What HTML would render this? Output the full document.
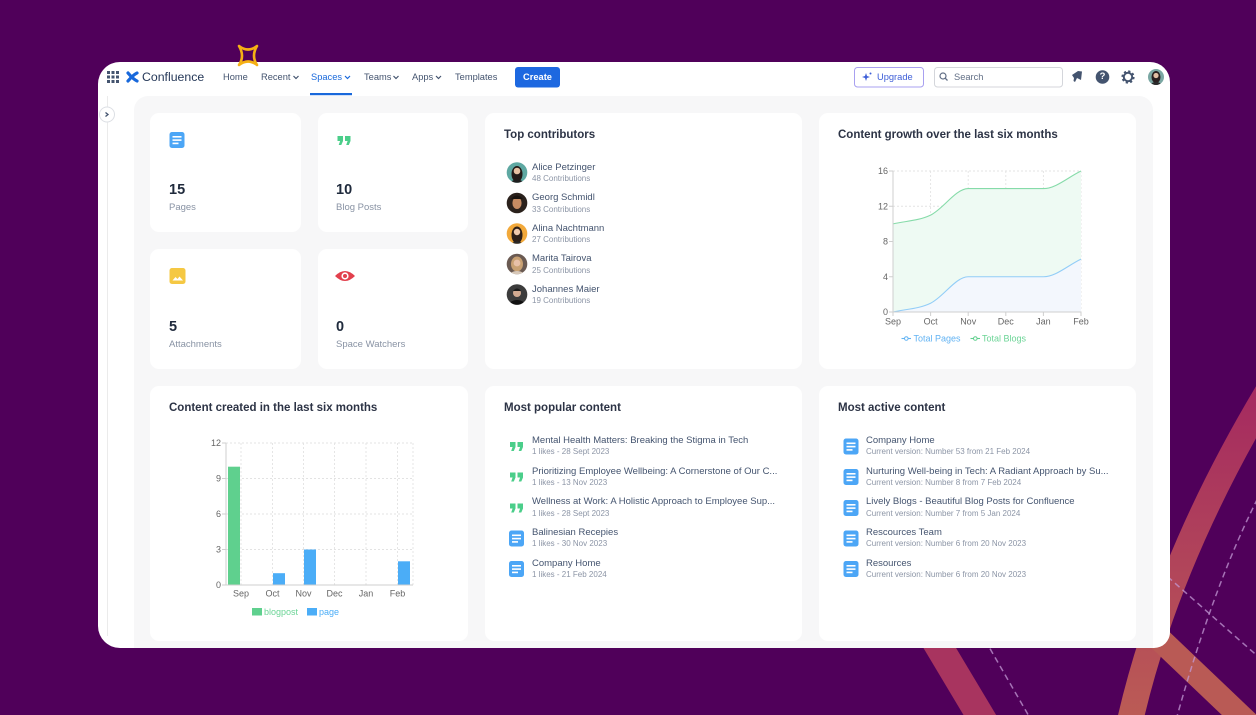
<!DOCTYPE html>
<html><head><meta charset="utf-8">
<style>
*{margin:0;padding:0;box-sizing:border-box}
body{width:1256px;height:715px;background:#50005a;position:relative;overflow:hidden;font-family:"Liberation Sans",sans-serif}
.a{position:absolute;white-space:nowrap}
.card{position:absolute;background:#fff;border-radius:9px}
.t{position:absolute;font-size:11.5px;font-weight:bold;color:#2c3345;line-height:14px;white-space:nowrap}
.nm{position:absolute;font-size:9.5px;color:#44546f;line-height:12px;white-space:nowrap}
.sb{position:absolute;font-size:8px;color:#8c95a6;line-height:10px;white-space:nowrap}
.nav{position:absolute;font-size:9.3px;color:#44546f;line-height:12px;top:71px;white-space:nowrap}
.num{position:absolute;font-size:14.5px;font-weight:bold;color:#1f2a3c;line-height:16px}
.lbl{position:absolute;font-size:9.5px;color:#8993a4;line-height:12px;white-space:nowrap}
</style></head><body>

<!-- background decorations -->
<svg class="a" style="left:0;top:0" width="1256" height="715">
<defs>
<linearGradient id="bg1" gradientUnits="userSpaceOnUse" x1="0" y1="390" x2="0" y2="715"><stop offset="0" stop-color="#a52a60"/><stop offset="1" stop-color="#bb5b55"/></linearGradient>
</defs>
<path d="M1128 730 Q1165 560 1275 380" stroke="url(#bg1)" stroke-width="26" fill="none"/>
<path d="M1150 630 L1255 730" stroke="#b95a55" stroke-width="24" fill="none"/>
<path d="M926 625 L990 732" stroke="#a8345f" stroke-width="28" fill="none"/>
<g stroke="#c39ad6" stroke-opacity="0.75" stroke-width="1.5" stroke-dasharray="6 4" fill="none">
<path d="M1262 490 Q1215 580 1176 720"/>
<path d="M1160 570 L1262 660"/>
<path d="M985 640 L1030 718"/>
</g>
</svg>

<!-- frame -->
<div class="a" style="left:98px;top:62px;width:1072px;height:586px;background:#fff;border-radius:22px 20px 16px 22px"></div>
<div class="a" style="left:134px;top:96px;width:1019px;height:552px;background:#f7f7f8;border-radius:14px 14px 0 0"></div>
<div class="a" style="left:107px;top:96px;width:1px;height:540px;background:#ebebeb"></div>

<!-- sparkle -->
<svg class="a" style="left:236px;top:44px" width="26" height="24"><path d="M3 2 Q12 9 21 2 Q15 12 21 21 Q12 14 3 21 Q9 12 3 2 Z" fill="none" stroke="#f5b014" stroke-width="2.6" stroke-linejoin="round"/></svg>

<!-- nav -->
<svg class="a" style="left:0;top:0" width="1256" height="715">
<g fill="#44546f">
<rect x="107" y="71" width="3" height="3"/><rect x="111.5" y="71" width="3" height="3"/><rect x="116" y="71" width="3" height="3"/>
<rect x="107" y="75.5" width="3" height="3"/><rect x="111.5" y="75.5" width="3" height="3"/><rect x="116" y="75.5" width="3" height="3"/>
<rect x="107" y="80" width="3" height="3"/><rect x="111.5" y="80" width="3" height="3"/><rect x="116" y="80" width="3" height="3"/>
</g>
<g stroke="#1868db" stroke-width="3.2" fill="none" stroke-linecap="round">
<path d="M128 73 Q133 79 137 81"/><path d="M128 81 Q133 75 137 73"/>
</g>
<g stroke="#44546f" stroke-width="1.2" fill="none">
<path d="M293.5 76 L296 78.5 L298.5 76"/>
<path d="M393.5 76 L396 78.5 L398.5 76"/>
<path d="M436 76 L438.5 78.5 L441 76"/>
</g>
<path d="M345 76 L347.5 78.5 L350 76" stroke="#1868db" stroke-width="1.2" fill="none"/>
<rect x="310" y="93" width="42" height="2.2" fill="#1868db"/>
<rect x="515" y="67" width="45" height="20.5" rx="3" fill="#1d68e0"/>
<rect x="854.5" y="67.5" width="69" height="19.5" rx="3" fill="#fff" stroke="#a8a0f0"/>
<path d="M866 73 L867 76 L870 77 L867 78 L866 81 L865 78 L862 77 L865 76 Z" fill="#3e5fd8"/>
<circle cx="870.5" cy="73.5" r="1" fill="#3e5fd8"/>
<rect x="934.5" y="67.5" width="128" height="19.5" rx="3" fill="#fff" stroke="#d4d6db"/>
<circle cx="943" cy="76" r="3" fill="none" stroke="#626f86" stroke-width="1.2"/>
<path d="M945.2 78.2 L947.5 80.5" stroke="#626f86" stroke-width="1.3"/>
<path d="M1072 75 L1078 71 L1082 71.5 L1081 80 L1077 78 L1075 82 L1073.5 81 L1074 78 Z" fill="#44546f"/>
<circle cx="1102.5" cy="77" r="6.8" fill="#44546f"/>
<circle cx="1128" cy="77" r="4.2" fill="none" stroke="#44546f" stroke-width="2"/>
<circle cx="1128" cy="77" r="5.6" fill="none" stroke="#44546f" stroke-width="2" stroke-dasharray="2.2 2.2"/>
<clipPath id="av0"><circle cx="1156" cy="77" r="8"/></clipPath>
<g clip-path="url(#av0)"><rect x="1148" y="69" width="16" height="16" fill="#7aa7a3"/><ellipse cx="1156" cy="77" rx="4.5" ry="6" fill="#2a2020"/><circle cx="1156" cy="75.5" r="2.6" fill="#e3bfa4"/><ellipse cx="1156" cy="86" rx="6" ry="4" fill="#2a2a2a"/></g>
<circle cx="107" cy="114.5" r="7.5" fill="#fff" stroke="#dcdfe4"/>
<path d="M105.5 112.5 L108 114.5 L105.5 116.5" stroke="#44546f" stroke-width="1.3" fill="none"/>
</svg>
<div class="a" style="left:142px;top:69px;font-size:12.3px;color:#253858;line-height:16px">Confluence</div>
<div class="nav" style="left:223px">Home</div>
<div class="nav" style="left:261px">Recent</div>
<div class="nav" style="left:311px;color:#1868db">Spaces</div>
<div class="nav" style="left:364px">Teams</div>
<div class="nav" style="left:412px">Apps</div>
<div class="nav" style="left:455px">Templates</div>
<div class="a" style="left:515px;top:71px;width:45px;text-align:center;font-size:9.3px;font-weight:bold;color:#fff;line-height:12px">Create</div>
<div class="a" style="left:877px;top:71px;font-size:9.3px;color:#3e5fd8;line-height:12px">Upgrade</div>
<div class="a" style="left:954px;top:71px;font-size:9.3px;color:#626f86;line-height:12px">Search</div>
<div class="a" style="left:1095px;top:71px;width:15px;text-align:center;font-size:9.5px;font-weight:bold;color:#fff;line-height:12px">?</div>

<!-- cards -->
<div class="card" style="left:150px;top:113px;width:151px;height:119px"></div>
<div class="card" style="left:318px;top:113px;width:150px;height:119px"></div>
<div class="card" style="left:150px;top:249px;width:151px;height:120px"></div>
<div class="card" style="left:318px;top:249px;width:150px;height:120px"></div>
<div class="card" style="left:485px;top:113px;width:317px;height:256px"></div>
<div class="card" style="left:819px;top:113px;width:317px;height:256px"></div>
<div class="card" style="left:150px;top:386px;width:318px;height:255px"></div>
<div class="card" style="left:485px;top:386px;width:317px;height:255px"></div>
<div class="card" style="left:819px;top:386px;width:317px;height:255px"></div>

<svg class="a" style="left:0;top:0" width="1256" height="715">
<defs>
<g id="pg"><rect x="0" y="0" width="15" height="16" rx="2.5" fill="#4ca6f6"/><rect x="3" y="4" width="9" height="1.6" fill="#fff"/><rect x="3" y="7.3" width="9" height="1.6" fill="#fff"/><rect x="3" y="10.6" width="6" height="1.6" fill="#fff"/></g>
<g id="qt"><path d="M0 0 H5.5 V5 L3.8 9 H1.2 L2.6 5 H0 Z M7.5 0 H13 V5 L11.3 9 H8.7 L10.1 5 H7.5 Z" fill="#4bce8a"/></g>
</defs>
<use href="#pg" x="169.5" y="132"/>
<use href="#qt" x="337.5" y="136"/>
<rect x="169.5" y="268" width="16" height="16" rx="2.5" fill="#f5c843"/>
<path d="M172.5 280.5 L175.5 277 L177.5 279 L179.5 276.5 L183 280.5 Z" fill="#fff"/>
<path d="M335 276 Q345 266 355 276 Q345 286 335 276 Z" fill="#e2404d"/>
<circle cx="345" cy="276" r="3.6" fill="#fff"/>
<circle cx="345" cy="276" r="2" fill="#e2404d"/>

<clipPath id="c1"><circle cx="517" cy="172.5" r="10.3"/></clipPath>
<clipPath id="c2"><circle cx="517" cy="203" r="10.3"/></clipPath>
<clipPath id="c3"><circle cx="517" cy="233.5" r="10.3"/></clipPath>
<clipPath id="c4"><circle cx="517" cy="264" r="10.3"/></clipPath>
<clipPath id="c5"><circle cx="517" cy="294.5" r="10.3"/></clipPath>
<g clip-path="url(#c1)"><rect x="505" y="161" width="24" height="24" fill="#5ea8a2"/><ellipse cx="517" cy="174" rx="5.5" ry="8" fill="#231a18"/><circle cx="517" cy="171" r="3.3" fill="#e6c0a2"/><ellipse cx="517" cy="184" rx="7" ry="4.5" fill="#1e1e1e"/></g>
<g clip-path="url(#c2)"><rect x="505" y="191" width="24" height="24" fill="#2a211c"/><ellipse cx="517" cy="203" rx="4.6" ry="6" fill="#c68b62"/><path d="M511 199 Q517 192 523 199 Z" fill="#1a1410"/></g>
<g clip-path="url(#c3)"><rect x="505" y="222" width="24" height="24" fill="#f2a93b"/><ellipse cx="517" cy="235" rx="5.5" ry="8.5" fill="#2e2018"/><circle cx="517" cy="232" r="3.2" fill="#f0c9ab"/><ellipse cx="517" cy="246" rx="7" ry="4.5" fill="#2a2a2a"/></g>
<g clip-path="url(#c4)"><rect x="505" y="252" width="24" height="24" fill="#6a5a52"/><ellipse cx="517" cy="264" rx="6" ry="7.5" fill="#c9a173"/><circle cx="517" cy="263" r="3.4" fill="#e8c1a8"/><ellipse cx="517" cy="276" rx="8" ry="5" fill="#d8c8b8"/></g>
<g clip-path="url(#c5)"><rect x="505" y="283" width="24" height="24" fill="#3c3c3c"/><circle cx="517" cy="293" r="4" fill="#d3ab92"/><path d="M513 291 Q517 286 521 291 Z" fill="#1a1a1a"/><ellipse cx="517" cy="305" rx="8" ry="5" fill="#111"/></g>

<g stroke="#e3e3e3" stroke-width="0.9" stroke-dasharray="2 2" fill="none">
<path d="M893 171 H1081 M893 206.25 H1081 M893 241.5 H1081 M893 276.75 H1081"/>
<path d="M930.6 171 V312 M968.2 171 V312 M1005.8 171 V312 M1043.4 171 V312 M1081 171 V312"/>
</g>
<path d="M893 223.9 C905.5 220.96 918.1 220.98 930.6 215.1 C943.1 209.2 955.7 188.6 968.2 188.6 L1043.4 188.6 C1055.9 188.6 1068.5 176.9 1081 171 L1081 312 L893 312 Z" fill="#eefaf3"/>
<path d="M893 312 C905.5 309.1 918.1 309.1 930.6 303.2 C943.1 297.3 955.7 276.75 968.2 276.75 L1043.4 276.75 C1055.9 276.75 1068.5 265 1081 259.1 L1081 312 Z" fill="#f3f7fd"/>
<path d="M893 223.9 C905.5 220.96 918.1 220.98 930.6 215.1 C943.1 209.2 955.7 188.6 968.2 188.6 L1043.4 188.6 C1055.9 188.6 1068.5 176.9 1081 171" fill="none" stroke="#86dba9" stroke-width="1.1"/>
<path d="M893 312 C905.5 309.1 918.1 309.1 930.6 303.2 C943.1 297.3 955.7 276.75 968.2 276.75 L1043.4 276.75 C1055.9 276.75 1068.5 265 1081 259.1" fill="none" stroke="#92cdf7" stroke-width="1.1"/>
<g stroke="#cfcfcf" stroke-width="1" fill="none">
<path d="M893 171 V312 H1081"/>
<path d="M889 171 H893 M889 206.25 H893 M889 241.5 H893 M889 276.75 H893 M889 312 H893"/>
<path d="M893 312 V316 M930.6 312 V316 M968.2 312 V316 M1005.8 312 V316 M1043.4 312 V316 M1081 312 V316"/>
</g>
<g fill="#666" font-family="Liberation Sans, sans-serif" font-size="9" text-anchor="end">
<text x="888" y="174.2">16</text><text x="888" y="209.4">12</text><text x="888" y="244.7">8</text><text x="888" y="280">4</text><text x="888" y="315.2">0</text>
</g>
<g fill="#666" font-family="Liberation Sans, sans-serif" font-size="9" text-anchor="middle">
<text x="893" y="324.5">Sep</text><text x="930.6" y="324.5">Oct</text><text x="968.2" y="324.5">Nov</text><text x="1005.8" y="324.5">Dec</text><text x="1043.4" y="324.5">Jan</text><text x="1081" y="324.5">Feb</text>
</g>
<path d="M901.5 338.5 H911" stroke="#62b3f3" stroke-width="1.1"/><circle cx="906.3" cy="338.5" r="1.8" fill="#fff" stroke="#62b3f3" stroke-width="1"/>
<path d="M970.5 338.5 H980" stroke="#5fcf8d" stroke-width="1.1"/><circle cx="975.3" cy="338.5" r="1.8" fill="#fff" stroke="#5fcf8d" stroke-width="1"/>
<text x="913.5" y="341.7" fill="#62b3f3" font-family="Liberation Sans, sans-serif" font-size="9">Total Pages</text>
<text x="982" y="341.7" fill="#6bd496" font-family="Liberation Sans, sans-serif" font-size="9">Total Blogs</text>

<g stroke="#e3e3e3" stroke-width="0.9" stroke-dasharray="2 2" fill="none">
<path d="M226 443 H413 M226 478.5 H413 M226 514 H413 M226 549.5 H413"/>
<path d="M241 443 V585 M272.5 443 V585 M303.5 443 V585 M334.5 443 V585 M366 443 V585 M397.5 443 V585 M413 443 V585"/>
</g>
<rect x="228" y="466.7" width="12" height="118.3" fill="#5fd08e"/>
<rect x="273" y="573.2" width="12" height="11.8" fill="#4badf7"/>
<rect x="304" y="549.5" width="12" height="35.5" fill="#4badf7"/>
<rect x="398" y="561.3" width="12" height="23.7" fill="#4badf7"/>
<g stroke="#cfcfcf" stroke-width="1" fill="none">
<path d="M226 443 V585 H413"/>
<path d="M222 443 H226 M222 478.5 H226 M222 514 H226 M222 549.5 H226 M222 585 H226"/>
</g>
<g fill="#666" font-family="Liberation Sans, sans-serif" font-size="9" text-anchor="end">
<text x="221" y="446.2">12</text><text x="221" y="481.7">9</text><text x="221" y="517.2">6</text><text x="221" y="552.7">3</text><text x="221" y="588.2">0</text>
</g>
<g fill="#666" font-family="Liberation Sans, sans-serif" font-size="9" text-anchor="middle">
<text x="241" y="596.5">Sep</text><text x="272.5" y="596.5">Oct</text><text x="303.5" y="596.5">Nov</text><text x="334.5" y="596.5">Dec</text><text x="366" y="596.5">Jan</text><text x="397.5" y="596.5">Feb</text>
</g>
<rect x="252" y="608" width="10" height="7.5" fill="#5fd08e"/>
<rect x="307" y="608" width="10" height="7.5" fill="#4badf7"/>
<text x="264" y="615" fill="#6bd496" font-family="Liberation Sans, sans-serif" font-size="9">blogpost</text>
<text x="319" y="615" fill="#4badf7" font-family="Liberation Sans, sans-serif" font-size="9">page</text>

<use href="#qt" x="510" y="442"/>
<use href="#qt" x="510" y="472.5"/>
<use href="#qt" x="510" y="503.5"/>
<use href="#pg" x="509" y="530.5"/>
<use href="#pg" x="509" y="561"/>
<use href="#pg" x="843.5" y="438.5"/>
<use href="#pg" x="843.5" y="469"/>
<use href="#pg" x="843.5" y="500"/>
<use href="#pg" x="843.5" y="530.5"/>
<use href="#pg" x="843.5" y="561"/>
</svg>

<div class="num" style="left:169px;top:182px">15</div>
<div class="lbl" style="left:169px;top:202px">Pages</div>
<div class="num" style="left:336px;top:182px">10</div>
<div class="lbl" style="left:336px;top:202px">Blog Posts</div>
<div class="num" style="left:169px;top:319px">5</div>
<div class="lbl" style="left:169px;top:339px">Attachments</div>
<div class="num" style="left:336px;top:319px">0</div>
<div class="lbl" style="left:336px;top:339px">Space Watchers</div>

<div class="t" style="left:504px;top:128px">Top contributors</div>
<div class="t" style="left:838px;top:128px">Content growth over the last six months</div>
<div class="t" style="left:169px;top:401px">Content created in the last six months</div>
<div class="t" style="left:504px;top:401px">Most popular content</div>
<div class="t" style="left:838px;top:401px">Most active content</div>

<div class="nm" style="left:532px;top:161.5px">Alice Petzinger</div>
<div class="sb" style="left:532px;top:174px">48 Contributions</div>
<div class="nm" style="left:532px;top:192px">Georg Schmidl</div>
<div class="sb" style="left:532px;top:204.5px">33 Contributions</div>
<div class="nm" style="left:532px;top:222.5px">Alina Nachtmann</div>
<div class="sb" style="left:532px;top:235px">27 Contributions</div>
<div class="nm" style="left:532px;top:253px">Marita Tairova</div>
<div class="sb" style="left:532px;top:265.5px">25 Contributions</div>
<div class="nm" style="left:532px;top:283.5px">Johannes Maier</div>
<div class="sb" style="left:532px;top:296px">19 Contributions</div>

<div class="nm" style="left:532px;top:435px">Mental Health Matters: Breaking the Stigma in Tech</div>
<div class="sb" style="left:532px;top:447px">1 likes - 28 Sept 2023</div>
<div class="nm" style="left:532px;top:465.5px">Prioritizing Employee Wellbeing: A Cornerstone of Our C...</div>
<div class="sb" style="left:532px;top:478px">1 likes - 13 Nov 2023</div>
<div class="nm" style="left:532px;top:496px">Wellness at Work: A Holistic Approach to Employee Sup...</div>
<div class="sb" style="left:532px;top:509px">1 likes - 28 Sept 2023</div>
<div class="nm" style="left:532px;top:527px">Balinesian Recepies</div>
<div class="sb" style="left:532px;top:539px">1 likes - 30 Nov 2023</div>
<div class="nm" style="left:532px;top:558px">Company Home</div>
<div class="sb" style="left:532px;top:570px">1 likes - 21 Feb 2024</div>

<div class="nm" style="left:866px;top:435px">Company Home</div>
<div class="sb" style="left:866px;top:447px">Current version: Number 53 from 21 Feb 2024</div>
<div class="nm" style="left:866px;top:465.5px">Nurturing Well-being in Tech: A Radiant Approach by Su...</div>
<div class="sb" style="left:866px;top:478px">Current version: Number 8 from 7 Feb 2024</div>
<div class="nm" style="left:866px;top:496px">Lively Blogs - Beautiful Blog Posts for Confluence</div>
<div class="sb" style="left:866px;top:509px">Current version: Number 7 from 5 Jan 2024</div>
<div class="nm" style="left:866px;top:527px">Rescources Team</div>
<div class="sb" style="left:866px;top:539px">Current version: Number 6 from 20 Nov 2023</div>
<div class="nm" style="left:866px;top:558px">Resources</div>
<div class="sb" style="left:866px;top:570px">Current version: Number 6 from 20 Nov 2023</div>

</body></html>
